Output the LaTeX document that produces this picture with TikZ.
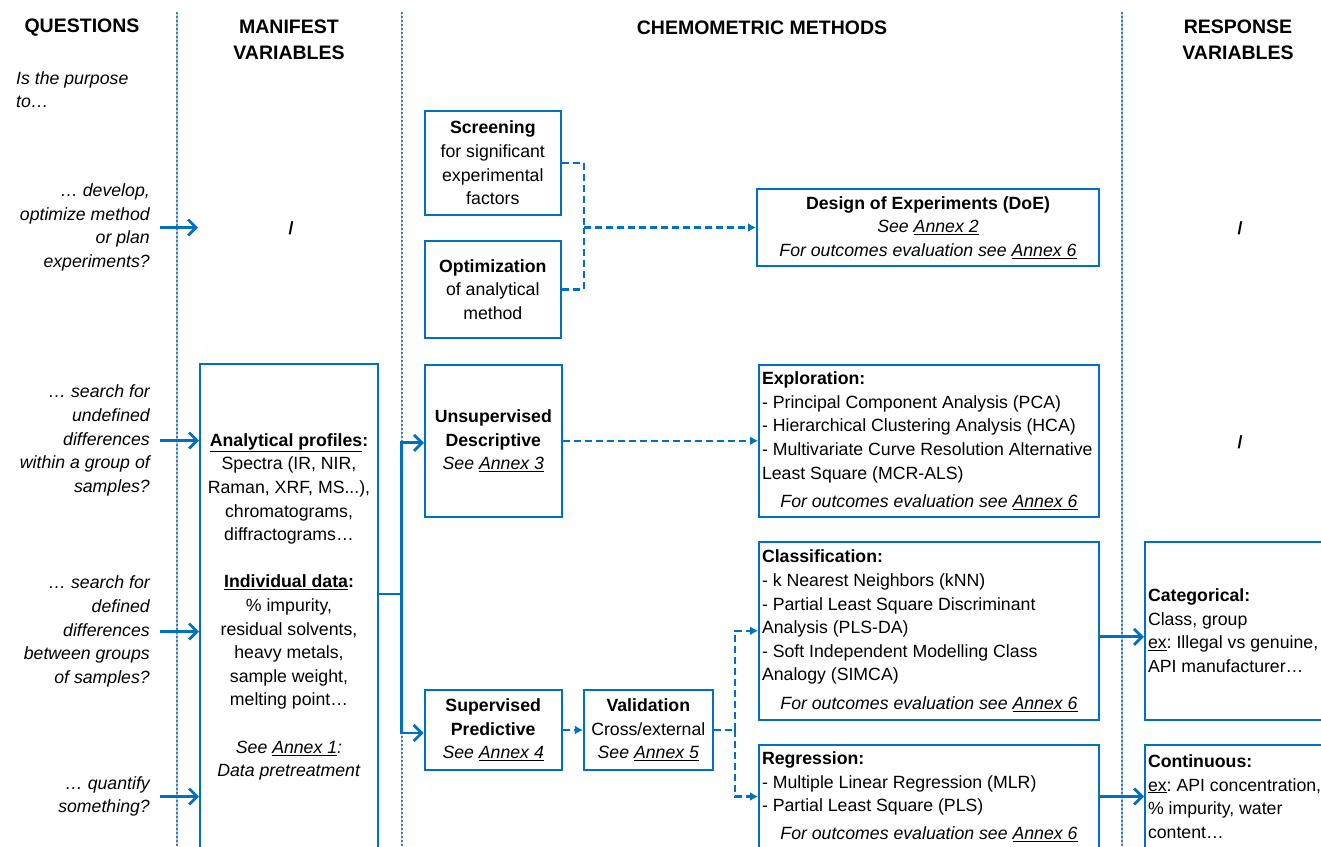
\documentclass[tikz,border=0pt]{standalone}
\usepackage{fontspec}
\setmainfont{Liberation Sans}
\usetikzlibrary{arrows.meta}
\definecolor{chemblue}{RGB}{0,112,192}
\definecolor{lineblue}{RGB}{60,125,185}
\definecolor{paleblue}{RGB}{175,205,230}
\frenchspacing
\begin{document}
\begin{tikzpicture}[x=1pt,y=-1pt,
  font=\fontsize{17.7}{23.6}\selectfont,
  head/.style={font=\fontsize{19.5}{26}\selectfont\bfseries, align=center},
  ask/.style={font=\fontsize{17.7}{23.6}\selectfont\itshape, align=right, anchor=east, inner sep=0pt},
  box/.style={draw=chemblue, line width=2pt, align=center, inner sep=0pt},
  listbox/.style={box, align=flush left, inner xsep=3pt},
  flow/.style={draw=chemblue, line width=2.8pt, -{Straight Barb[length=8pt,width=16pt]}},
  dashline/.style={draw=chemblue, line width=2.2pt, dash pattern=on 7pt off 4pt},
  dashflow/.style={dashline, -{Latex[length=8pt,width=9pt]}},
  divider/.style={draw=lineblue, line width=2pt, dotted, preaction={draw=paleblue, line width=1.6pt, solid}}]
\clip (0,0) rectangle (1321,846);
% column dividers
\draw[divider] (177,12) -- (177,846);
\draw[divider] (401.6,12) -- (401.6,846);
\draw[divider] (1122,12) -- (1122,846);
% headers
\node[head] (qhead) at (82,28) {QUESTIONS};
\node[head] (mhead) at (289,40) {MANIFEST\\VARIABLES};
\node[head] (chead) at (762,28) {CHEMOMETRIC METHODS};
\node[head] (rhead) at (1238,40) {RESPONSE\\VARIABLES};
% questions
\node[ask, align=left, anchor=west] (intro) at (16,89.5) {Is the purpose\\to…};
\node[ask] (q1) at (150,227.5) {… develop,\\optimize method\\or plan\\experiments?};
\node[ask] (q2) at (150,440.5) {… search for\\undefined\\differences\\within a group of\\samples?};
\node[ask] (q3) at (150,631.5) {… search for\\defined\\differences\\between groups\\of samples?};
\node[ask] (q4) at (150,796.5) {… quantify\\something?};
% manifest variables
\node (mslash) at (291,228) {\textbf{/}};
\node[box, minimum width=178pt, minimum height=486pt] (mbox) at (289,607) {\textbf{\underline{Analytical profiles}:}\\Spectra (IR, NIR,\\Raman, XRF, MS...),\\chromatograms,\\diffractograms…\\[23.6pt]\textbf{\underline{Individual data}:}\\\% impurity,\\residual solvents,\\heavy metals,\\sample weight,\\melting point…\\[23.6pt]\textit{See \underline{Annex 1}:}\\\textit{Data pretreatment}};
% chemometric methods
\node[box, minimum width=136.5pt, minimum height=104pt] (scr) at (492.8,163) {\textbf{Screening}\\for significant\\experimental\\factors};
\node[box, minimum width=136.5pt, minimum height=97pt] (opt) at (492.8,289.5) {\textbf{Optimization}\\of analytical\\method};
\node[box, minimum width=342pt, minimum height=77pt] (doe) at (928,227.5) {\textbf{Design of Experiments (DoE)}\\\textit{See \underline{Annex 2}}\\\textit{For outcomes evaluation see \underline{Annex 6}}};
\node[box, minimum width=136.6pt, minimum height=151.7pt] (uns) at (493.3,440.8) {\textbf{Unsupervised}\\\textbf{Descriptive}\\\textit{See \underline{Annex 3}}};
\node[listbox, text width=334pt, minimum height=151.7pt] (expl) at (929,440.8) {\textbf{Exploration:}\\- Principal Component Analysis (PCA)\\- Hierarchical Clustering Analysis (HCA)\\- Multivariate Curve Resolution Alternative\\Least Square (MCR-ALS)\\[5pt]\makebox[\linewidth]{\textit{For outcomes evaluation see \underline{Annex 6}}}};
\node[box, minimum width=137pt, minimum height=80pt] (sup) at (493.2,730) {\textbf{Supervised}\\\textbf{Predictive}\\\textit{See \underline{Annex 4}}};
\node[box, minimum width=128.7pt, minimum height=80pt] (val) at (648.3,730) {\textbf{Validation}\\Cross/external\\\textit{See \underline{Annex 5}}};
\node[listbox, text width=334pt, minimum height=178.3pt] (cls) at (929,630.8) {\textbf{Classification:}\\- k Nearest Neighbors (kNN)\\- Partial Least Square Discriminant\\Analysis (PLS-DA)\\- Soft Independent Modelling Class\\Analogy (SIMCA)\\[5pt]\makebox[\linewidth]{\textit{For outcomes evaluation see \underline{Annex 6}}}};
\node[listbox, text width=334pt, minimum height=103pt] (reg) at (929,796.5) {\textbf{Regression:}\\- Multiple Linear Regression (MLR)\\- Partial Least Square (PLS)\\[4pt]\makebox[\linewidth]{\textit{For outcomes evaluation see \underline{Annex 6}}}};
% response variables
\node (rslash1) at (1240,228) {\textbf{/}};
\node (rslash2) at (1240,442) {\textbf{/}};
\node[listbox, text width=179pt, minimum height=178.3pt] (cat) at (1237.5,630.8) {\textbf{Categorical:}\\Class, group\\\underline{ex}: Illegal vs genuine,\\API manufacturer…};
\node[listbox, text width=179pt, minimum height=103pt] (cont) at (1237.5,796.5) {\textbf{Continuous:}\\\underline{ex}: API concentration,\\\% impurity, water\\content…};
% connectors
\coordinate (m0) at (198,227.5);
\draw[flow] ([xshift=10pt]q1.east) -- (m0);
\draw[flow] ([xshift=10pt]q2.east) -- (q2.east -| mbox.west);
\draw[flow] ([xshift=10pt]q3.east) -- (q3.east -| mbox.west);
\draw[flow] ([xshift=10pt]q4.east) -- (q4.east -| mbox.west);
\coordinate (bus) at (401.5,594);
\draw[chemblue, line width=2.8pt] (mbox.east |- bus) -- (bus);
\draw[flow] (bus) |- ([yshift=-2pt]uns.west);
\draw[flow] (bus) |- ([yshift=-3pt]sup.west);
\coordinate (jdoe) at (584,227.5);
\draw[dashline] (scr.east) -| (jdoe);
\draw[dashline] (opt.east) -| (jdoe);
\draw[dashflow] (jdoe) -- (doe.west);
\draw[dashflow] (uns.east) -- (expl.west);
\draw[dashflow] (sup.east) -- (val.west);
\coordinate (jval) at (735,730);
\draw[dashline] (val.east) -- (jval);
\draw[dashflow] (jval) |- (cls.west);
\draw[dashflow] (jval) |- (reg.west);
\draw[flow] ([yshift=-6pt]cls.east) -- ([yshift=-6pt]cat.west);
\draw[flow] (reg.east) -- (cont.west);
\end{tikzpicture}
\end{document}
